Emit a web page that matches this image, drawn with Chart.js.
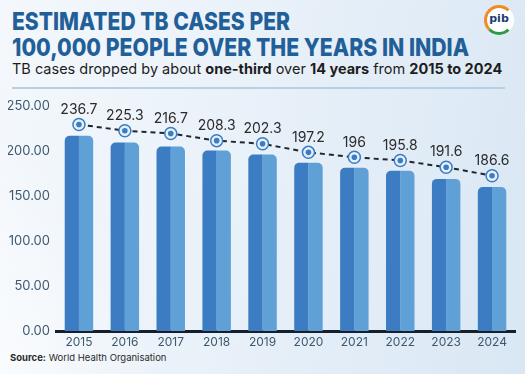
<!DOCTYPE html>
<html>
<head>
<meta charset="utf-8">
<script src="https://cdn.jsdelivr.net/npm/chart.js@4.4.1/dist/chart.umd.min.js"></script>
<style>
  html, body { margin: 0; padding: 0; }
  body {
    width: 525px; height: 374px; overflow: hidden; position: relative;
    font-family: "Inter", "Open Sans", sans-serif;
    background: linear-gradient(100deg, #f4f8fc 0%, #e9f1f9 45%, #d9e7f4 100%);
  }
  .swoosh {
    position: absolute; left: -260px; top: 120px; width: 420px; height: 520px;
    border-radius: 50%;
    background: radial-gradient(ellipse at center, rgba(255,255,255,0.75) 0%, rgba(255,255,255,0) 70%);
  }
  .title {
    position: absolute; left: 12px; top: 8px; margin: 0;
    color: #225f98; font-weight: 800; font-size: 25px; line-height: 26px;
    white-space: nowrap;
  }
  .title span { display: inline-block; transform-origin: left center; }
  .subtitle {
    position: absolute; left: 12px; top: 60px; margin: 0;
    color: #1d1d1d; font-size: 14.5px; line-height: 18px; white-space: nowrap;
  }
  .subtitle b { font-weight: 700; }
  .rule {
    position: absolute; left: 12px; top: 87px; width: 493px; height: 2px;
    background: #b9cfe3;
  }
  .logo {
    position: absolute; left: 484px; top: 5px; width: 30px; height: 30px;
    border-radius: 50%; background: #fff; box-sizing: border-box;
    border: 3px solid #fff; border-top-color: #f08a24; border-left-color: #f08a24;
    border-bottom-color: #2e9a46;
    font: 700 11px "DejaVu Sans", sans-serif; color: #1d3c6e;
    text-align: center; line-height: 22px;
  }
  .source {
    position: absolute; left: 10px; top: 352px; margin: 0;
    font-size: 9.5px; color: #2a2a2a;
  }
  .source b { font-weight: 700; }
  canvas { position: absolute; left: 0; top: 0; }
</style>
</head>
<body>
<div class="swoosh"></div>
<p class="title"><span data-w="278">ESTIMATED TB CASES PER</span><br><span data-w="457">100,000 PEOPLE OVER THE YEARS IN INDIA</span></p>
<p class="subtitle">TB cases dropped by about <b>one-third</b> over <b>14 years</b> from <b>2015 to 2024</b></p>
<div class="rule"></div>
<div class="logo">pib</div>
<p class="source"><b>Source:</b> World Health Organisation</p>
<canvas id="tbChart" width="525" height="374"></canvas>
<script>
// squeeze the heading lines to the widths they have in the picture
document.querySelectorAll(".title span").forEach((s) => {
  const w = s.getBoundingClientRect().width;
  s.style.transform = "scaleX(" + (Number(s.dataset.w) / w) + ")";
});

// categories
const years = ["2015", "2016", "2017", "2018", "2019", "2020", "2021", "2022", "2023", "2024"];
// bar heights as drawn in the picture
const barValues = [217, 209.5, 205, 200.5, 196, 187, 181.5, 178, 169, 160];
// trend marker positions as drawn
const trendValues = [229.5, 222.5, 219.5, 211.5, 208, 198.5, 193, 189.5, 182, 172.5];
// printed labels
const trendLabels = ["236.7", "225.3", "216.7", "208.3", "202.3", "197.2", "196", "195.8", "191.6", "186.6"];
const yTicks = [0, 50, 100, 150, 200, 250];

const DARK = "#3b7cc2";
const LIGHT = "#5fa0d7";

const valueLabelPlugin = {
  id: "valueLabels",
  afterDatasetsDraw(chart) {
    const meta = chart.getDatasetMeta(2);
    const ctx = chart.ctx;
    ctx.save();
    ctx.font = "14px Inter, 'Open Sans', sans-serif";
    ctx.fillStyle = "#2b2b2b";
    ctx.textAlign = "center";
    ctx.textBaseline = "middle";
    meta.data.forEach((pt, i) => {
      ctx.fillText(trendLabels[i], pt.x, pt.y - 15);
    });
    ctx.restore();
  },
};

const ctx = document.getElementById("tbChart").getContext("2d");
new Chart(ctx, {
  data: {
    labels: years,
    datasets: [
      {
        type: "bar",
        data: barValues,
        backgroundColor: DARK,
        borderRadius: { topLeft: 5, topRight: 0 },
        borderSkipped: "bottom",
        barPercentage: 1,
        categoryPercentage: 0.62,
        order: 3,
      },
      {
        type: "bar",
        data: barValues,
        backgroundColor: LIGHT,
        borderRadius: { topLeft: 0, topRight: 5 },
        borderSkipped: "bottom",
        barPercentage: 1,
        categoryPercentage: 0.62,
        order: 3,
      },
      {
        type: "line",
        data: trendValues,
        borderColor: "#1e2630",
        borderWidth: 2,
        borderDash: [5, 4],
        pointRadius: 6,
        pointBackgroundColor: "#e6f0fa",
        pointBorderColor: DARK,
        pointBorderWidth: 1.5,
        order: 2,
      },
      {
        type: "line",
        data: trendValues,
        showLine: false,
        pointRadius: 2.8,
        pointBackgroundColor: DARK,
        pointBorderWidth: 0,
        order: 1,
      },
    ],
  },
  options: {
    responsive: false,
    animation: false,
    layout: { padding: { top: 106, left: 8, right: 10, bottom: 23 } },
    plugins: {
      legend: { display: false },
      tooltip: { enabled: false },
    },
    scales: {
      x: {
        grid: { display: false, drawTicks: false },
        border: { display: true, color: "#16202c", width: 3 },
        ticks: { color: "#3e5870", font: { size: 12, family: "Inter" }, padding: 4 },
        afterFit(scale) { scale.height = 20; },
      },
      y: {
        min: 0,
        max: 250,
        afterBuildTicks(scale) { scale.ticks = yTicks.map((v) => ({ value: v })); },
        grid: { display: false, drawTicks: false },
        border: { display: false },
        ticks: {
          color: "#3e5870",
          font: { size: 13, family: "Inter" },
          padding: 6,
          callback: (v) => Number(v).toFixed(2),
        },
        afterFit(scale) { scale.width = 48; },
      },
    },
  },
  plugins: [valueLabelPlugin],
});
</script>
</body>
</html>
